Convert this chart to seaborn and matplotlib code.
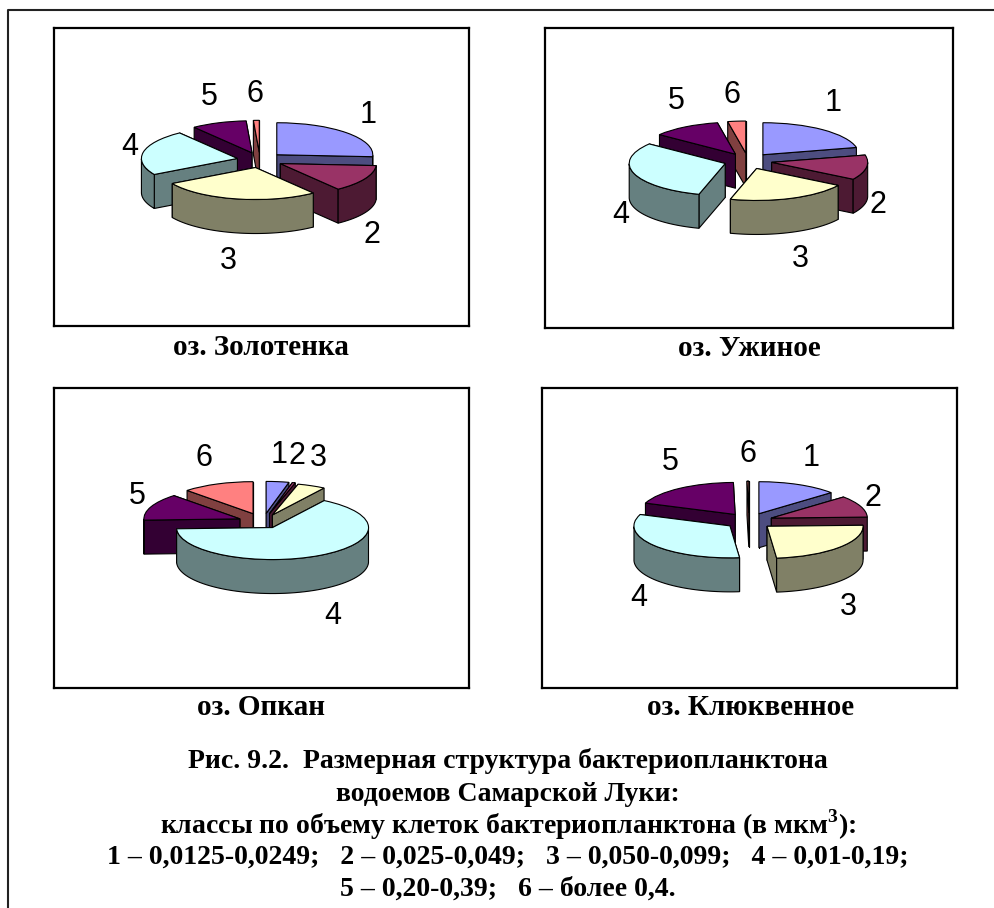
import numpy as np
import seaborn as sns
import matplotlib.pyplot as plt

sns.set_theme(style="white")
plt.rcParams['font.family'] = ['Liberation Serif', 'DejaVu Sans']
plt.rcParams['mathtext.fontset'] = 'custom'
plt.rcParams['mathtext.bf'] = 'Liberation Serif:bold'
plt.rcParams['text.color'] = 'black'

# --- DATA (percent of total) ---
classes = ['1', '2', '3', '4', '5', '6']
zolotenka = [26.5, 14, 27.5, 23.5, 9.5, 1]
uzhinoe = [21.3, 12.5, 20.5, 31, 11.5, 3]
opkan = [3.8, 0.5, 4.7, 65, 13.5, 12]
klyukvennoe = [13.6, 11, 24, 32.5, 19, 0.3]
lakes = ['оз. Золотенка', 'оз. Ужиное', 'оз. Опкан', 'оз. Клюквенное']

caption = [
    'Рис. 9.2.  Размерная структура бактериопланктона',
    'водоемов Самарской Луки:',
    r'классы по объему клеток бактериопланктона (в мкм$^{\mathbf{3}}$):',
    '1 – 0,0125-0,0249;   2 – 0,025-0,049;   3 – 0,050-0,099;   4 – 0,01-0,19;',
    '5 – 0,20-0,39;   6 – более 0,4.',
]

# --- STYLE / LAYOUT (pixels of the 995x908 page) ---
W, H = 995, 908
top_colors = sns.color_palette(['#9999FF', '#993366', '#FFFFCC', '#CCFFFF', '#660066', '#FF8080'])
side_colors = [tuple(c * 0.5 for c in col) for col in top_colors]
explodes = [
    [0.24] * 6,
    [0.25] * 6,
    [0.27, 0.27, 0.24, 0.2, 0.26, 0.28],
    [0.25] * 6,
]
boxes = [(54, 28, 469, 326), (545, 28, 953, 328), (54, 388, 469, 688), (542, 388, 957, 688)]
centers = [(260, 160), (748, 161), (263, 522), (749, 521)]
RX, RY, DEPTH = 96, 32, 34
label_xy = [
    [(368, 115), (372, 235), (228, 261), (130, 147), (209, 97), (255, 94)],
    [(833, 103), (878, 205), (800, 259), (621, 215), (676, 101), (732, 95)],
    [(279, 455), (297, 456), (318, 458), (333, 616), (137, 496), (204, 458)],
    [(811, 458), (873, 498), (848, 607), (639, 598), (670, 462), (748, 454)],
]
name_xy = [(261, 355), (749, 356), (261, 715), (751, 715)]
caption_y = [768, 801, 834, 864, 896]


def draw_pie(ax, values, explode, depth):
    wedges, _ = ax.pie(values, explode=explode, startangle=90, counterclock=False,
                       colors=top_colors, wedgeprops={'edgecolor': 'black', 'linewidth': 0.8})
    # back slices first, so the front ones paint over them
    items = []
    for i, w in enumerate(wedges):
        t = np.radians(np.linspace(w.theta1, w.theta2, 80))
        cy = w.center[1] + (2 / 3) * np.sin(t).mean()
        items.append((cy, i, w, t))
    items.sort(key=lambda it: -it[0])
    for rank, (_, i, w, t) in enumerate(items):
        cx0, cy0 = w.center
        faces = []
        for a in (t[0], t[-1]):
            xs = np.array([cx0, cx0 + np.cos(a), cx0 + np.cos(a), cx0])
            ys = np.array([cy0, cy0 + np.sin(a), cy0 + np.sin(a) - depth, cy0 - depth])
            faces.append((xs, ys))
        front = t[np.sin(t) <= 0]
        if len(front) > 1:
            xa = cx0 + np.cos(front)
            ya = cy0 + np.sin(front)
            faces.append((np.r_[xa, xa[::-1]], np.r_[ya, ya[::-1] - depth]))
        faces.sort(key=lambda f: -f[1].mean())
        z = 10 + rank * 10
        for k, (xs, ys) in enumerate(faces):
            ax.fill(xs, ys, facecolor=side_colors[i], edgecolor='black', linewidth=0.8, zorder=z + k)
        w.set_zorder(z + 5)


fig = plt.figure(figsize=(W / 100, H / 100), dpi=100, facecolor='white')

# page overlay in pixel coordinates
page = fig.add_axes([0, 0, 1, 1])
page.set_xlim(0, W)
page.set_ylim(H, 0)
page.axis('off')
page.plot([8, 8, W], [H, 10, 10], color='#222222', lw=1.5)

series = [zolotenka, uzhinoe, opkan, klyukvennoe]
for n, values in enumerate(series):
    x0, y0, x1, y1 = boxes[n]
    cx, cy = centers[n]
    ax = fig.add_axes([x0 / W, 1 - y1 / H, (x1 - x0) / W, (y1 - y0) / H])
    draw_pie(ax, values, explodes[n], DEPTH / RY)
    ax.set_aspect('auto')
    ax.set_xlim((x0 - cx) / RX, (x1 - cx) / RX)
    ax.set_ylim((cy - y1) / RY, (cy - y0) / RY)
    ax.set_frame_on(True)
    ax.patch.set_alpha(0)
    for s in ax.spines.values():
        s.set_visible(True)
        s.set_color('black')
        s.set_linewidth(1.6)
        s.set_zorder(200)
    page.text(*name_xy[n], lakes[n], ha='center', va='baseline', fontsize=21, fontweight='bold')
    for lab, (lx, ly) in zip(classes, label_xy[n]):
        page.text(lx, ly, lab, ha='center', va='center', fontsize=22, zorder=300,
                  family=['Liberation Sans', 'DejaVu Sans'])

for line, y in zip(caption, caption_y):
    page.text(508, y, line, ha='center', va='baseline', fontsize=20, fontweight='bold')

fig.savefig('out.png', dpi=100)
